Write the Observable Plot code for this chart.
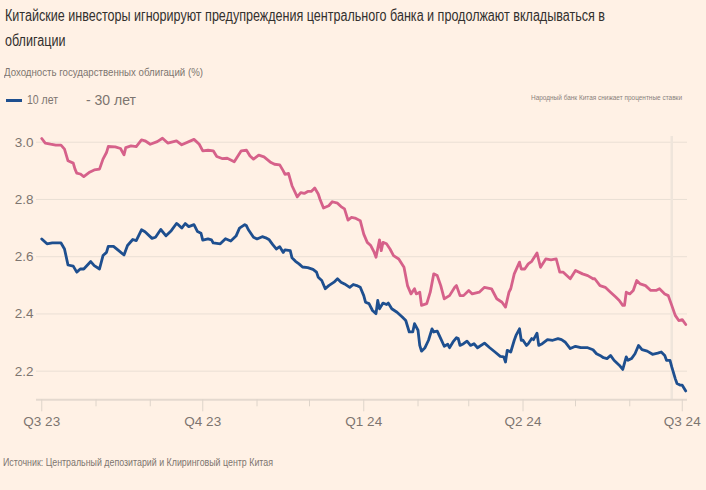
<!DOCTYPE html>
<html>
<head>
<meta charset="utf-8">
<script src="https://cdn.jsdelivr.net/npm/d3@7"></script>
<script src="https://cdn.jsdelivr.net/npm/@observablehq/plot@0.6"></script>
<style>
  html, body { margin: 0; padding: 0; background: #fff1e5; }
  #wrap { position: relative; width: 706px; height: 490px; background: #fff1e5; overflow: hidden; font-family: "Liberation Sans", Arial, sans-serif; }
  .fit { position: absolute; white-space: nowrap; transform-origin: 0 50%; }
  #title { left: 5px; top: 3px; font-size: 16px; line-height: 25px; color: #33302e; }
  #subtitle { left: 4px; top: 65px; font-size: 11px; line-height: 14px; color: #7d7570; }
  #sw10 { position: absolute; left: 6px; top: 99px; width: 16px; height: 3px; background: #1e4f8f; }
  #lab10 { left: 27px; top: 92px; font-size: 12px; line-height: 16px; color: #7d7570; }
  #lab30 { position: absolute; left: 86px; top: 91px; font-size: 14px; line-height: 18px; color: #7d7570; white-space: nowrap; }
  #annot { left: 531px; top: 93px; font-size: 8px; line-height: 10px; color: #8a817c; }
  #chart { position: absolute; left: 0; top: 110px; }
  #source { left: 3px; top: 455px; font-size: 11px; line-height: 14px; color: #7d7570; }
</style>
</head>
<body>
<div id="wrap">
  <div id="title" class="fit" data-w="600">Китайские инвесторы игнорируют предупреждения центрального банка и продолжают вкладываться в<br>облигации</div>
  <div id="subtitle" class="fit" data-w="199">Доходность государственных облигаций (%)</div>
  <div id="sw10"></div>
  <div id="lab10" class="fit" data-w="31">10 лет</div>
  <div id="lab30">- 30 лет</div>
  <div id="annot" class="fit" data-w="151">Народный банк Китая снижает процентные ставки</div>
  <div id="chart"></div>
  <div id="source" class="fit" data-w="270">Источник: Центральный депозитарий и Клиринговый центр Китая</div>
</div>
<script>
// ---- data ----
const dates30 = [
"2023-07-01","2023-07-03","2023-07-06","2023-07-09","2023-07-12","2023-07-14","2023-07-16","2023-07-19","2023-07-20","2023-07-21",
"2023-07-23","2023-07-25","2023-07-28","2023-07-31","2023-08-03","2023-08-05","2023-08-07","2023-08-08","2023-08-12","2023-08-15",
"2023-08-17","2023-08-18","2023-08-21","2023-08-24","2023-08-27","2023-08-29","2023-09-01","2023-09-05","2023-09-08","2023-09-11",
"2023-09-16","2023-09-19","2023-09-26","2023-09-29","2023-10-01","2023-10-04","2023-10-07","2023-10-09","2023-10-12","2023-10-15",
"2023-10-19","2023-10-23","2023-10-26","2023-10-28","2023-10-30","2023-11-02","2023-11-05","2023-11-09","2023-11-11","2023-11-14",
"2023-11-16","2023-11-17","2023-11-19","2023-11-21","2023-11-24","2023-11-26","2023-11-28","2023-11-30","2023-12-02","2023-12-04",
"2023-12-06","2023-12-07","2023-12-09","2023-12-12","2023-12-14","2023-12-17","2023-12-19","2023-12-21","2023-12-23","2023-12-25",
"2023-12-27","2023-12-30","2024-01-01","2024-01-03","2024-01-05","2024-01-07","2024-01-08","2024-01-10","2024-01-11","2024-01-12",
"2024-01-14","2024-01-16","2024-01-18","2024-01-21","2024-01-24","2024-01-26","2024-01-28","2024-01-30","2024-01-31","2024-02-02",
"2024-02-03","2024-02-06","2024-02-08","2024-02-10","2024-02-12","2024-02-14","2024-02-16","2024-02-19","2024-02-22","2024-02-23",
"2024-02-25","2024-02-27","2024-03-01","2024-03-03","2024-03-07","2024-03-10","2024-03-14","2024-03-17","2024-03-20","2024-03-22",
"2024-03-24","2024-03-25","2024-03-27","2024-03-30","2024-03-31","2024-04-02","2024-04-04","2024-04-06","2024-04-09","2024-04-11",
"2024-04-14","2024-04-17","2024-04-20","2024-04-22","2024-04-24","2024-04-28","2024-05-01","2024-05-05","2024-05-08","2024-05-11",
"2024-05-12","2024-05-15","2024-05-18","2024-05-21","2024-05-24","2024-05-26","2024-05-28","2024-05-29","2024-05-30","2024-06-01",
"2024-06-03","2024-06-05","2024-06-07","2024-06-10","2024-06-13","2024-06-16","2024-06-18","2024-06-21","2024-06-23","2024-06-25",
"2024-06-27","2024-06-29","2024-07-01","2024-07-03"
];
const yield30 = [
3.013,2.997,2.993,2.990,2.990,2.976,2.935,2.927,2.906,2.892,
2.889,2.880,2.894,2.903,2.906,2.941,2.964,2.985,2.984,2.978,
2.956,2.981,2.987,2.985,3.008,3.005,2.993,3.002,3.014,2.997,
3.005,2.991,3.010,2.993,2.970,2.972,2.970,2.950,2.943,2.944,
2.932,2.970,2.972,2.952,2.941,2.955,2.949,2.929,2.923,2.921,
2.900,2.888,2.891,2.848,2.809,2.824,2.821,2.828,2.828,2.840,
2.819,2.801,2.770,2.778,2.792,2.787,2.775,2.767,2.728,2.737,
2.735,2.726,2.679,2.650,2.639,2.615,2.598,2.659,2.621,2.650,
2.645,2.627,2.604,2.592,2.563,2.499,2.470,2.488,2.470,2.476,
2.430,2.436,2.476,2.540,2.534,2.499,2.453,2.464,2.493,2.499,
2.464,2.464,2.482,2.470,2.476,2.493,2.488,2.453,2.441,2.424,
2.476,2.488,2.540,2.581,2.557,2.557,2.575,2.584,2.613,2.563,
2.592,2.589,2.592,2.546,2.546,2.523,2.552,2.540,2.534,2.523,
2.523,2.499,2.493,2.476,2.459,2.447,2.430,2.430,2.476,2.470,
2.482,2.517,2.505,2.499,2.482,2.482,2.488,2.470,2.464,2.430,
2.395,2.377,2.380,2.363
];
const dates10 = [
"2023-07-01","2023-07-04","2023-07-07","2023-07-12","2023-07-14","2023-07-16","2023-07-19","2023-07-21","2023-07-23","2023-07-25",
"2023-07-29","2023-07-31","2023-08-03","2023-08-05","2023-08-07","2023-08-08","2023-08-11","2023-08-14","2023-08-17","2023-08-19",
"2023-08-22","2023-08-24","2023-08-27","2023-08-29","2023-09-02","2023-09-04","2023-09-07","2023-09-10","2023-09-13","2023-09-16",
"2023-09-17","2023-09-19","2023-09-21","2023-09-23","2023-09-26","2023-09-28","2023-09-30","2023-10-01","2023-10-04","2023-10-06",
"2023-10-07","2023-10-11","2023-10-14","2023-10-17","2023-10-20","2023-10-22","2023-10-25","2023-10-26","2023-10-27","2023-10-30",
"2023-11-01","2023-11-04","2023-11-06","2023-11-08","2023-11-10","2023-11-12","2023-11-14","2023-11-16","2023-11-17","2023-11-20",
"2023-11-21","2023-11-23","2023-11-25","2023-11-27","2023-11-30","2023-12-03","2023-12-05","2023-12-06","2023-12-08","2023-12-10",
"2023-12-12","2023-12-15","2023-12-17","2023-12-19","2023-12-21","2023-12-24","2023-12-26","2023-12-28","2023-12-30","2024-01-01",
"2024-01-02","2024-01-04","2024-01-06","2024-01-08","2024-01-09","2024-01-10","2024-01-12","2024-01-14","2024-01-15","2024-01-17",
"2024-01-20","2024-01-23","2024-01-25","2024-01-27","2024-01-29","2024-01-30","2024-02-01","2024-02-02","2024-02-03","2024-02-05",
"2024-02-07","2024-02-09","2024-02-10","2024-02-12","2024-02-14","2024-02-16","2024-02-18","2024-02-19","2024-02-21","2024-02-23",
"2024-02-24","2024-02-25","2024-02-27","2024-02-29","2024-03-02","2024-03-04","2024-03-06","2024-03-10","2024-03-13","2024-03-16",
"2024-03-19","2024-03-21","2024-03-22","2024-03-23","2024-03-25","2024-03-27","2024-03-28","2024-03-30","2024-03-31","2024-04-01",
"2024-04-03","2024-04-04","2024-04-06","2024-04-07","2024-04-09","2024-04-10","2024-04-12","2024-04-15","2024-04-18","2024-04-21",
"2024-04-23","2024-04-25","2024-04-28","2024-05-01","2024-05-04","2024-05-08","2024-05-11","2024-05-13","2024-05-15","2024-05-17",
"2024-05-19","2024-05-21","2024-05-23","2024-05-26","2024-05-28","2024-05-30","2024-05-31","2024-06-02","2024-06-04","2024-06-06",
"2024-06-08","2024-06-11","2024-06-14","2024-06-17","2024-06-19","2024-06-21","2024-06-22","2024-06-24","2024-06-25","2024-06-27",
"2024-06-28","2024-06-30","2024-07-01","2024-07-03"
];
const yield10 = [
2.662,2.645,2.648,2.648,2.627,2.571,2.567,2.546,2.557,2.557,
2.583,2.569,2.557,2.604,2.615,2.636,2.636,2.621,2.606,2.639,
2.660,2.656,2.694,2.687,2.664,2.668,2.695,2.673,2.691,2.716,
2.712,2.700,2.716,2.705,2.712,2.688,2.682,2.658,2.662,2.659,
2.648,2.645,2.663,2.655,2.672,2.700,2.712,2.708,2.695,2.668,
2.662,2.670,2.666,2.659,2.642,2.627,2.635,2.615,2.624,2.621,
2.596,2.584,2.575,2.564,2.562,2.556,2.546,2.528,2.517,2.488,
2.499,2.511,2.523,2.511,2.505,2.493,2.503,2.499,2.493,2.464,
2.441,2.436,2.412,2.401,2.447,2.418,2.438,2.433,2.438,2.418,
2.406,2.389,2.377,2.337,2.337,2.366,2.343,2.290,2.270,2.282,
2.308,2.348,2.337,2.340,2.314,2.287,2.294,2.282,2.302,2.317,
2.314,2.290,2.296,2.305,2.290,2.296,2.282,2.298,2.282,2.267,
2.252,2.250,2.232,2.273,2.267,2.308,2.325,2.348,2.308,2.308,
2.290,2.296,2.314,2.310,2.333,2.290,2.296,2.310,2.308,2.314,
2.310,2.302,2.279,2.287,2.282,2.282,2.275,2.261,2.255,2.247,
2.244,2.255,2.238,2.221,2.206,2.250,2.238,2.244,2.261,2.290,
2.275,2.270,2.259,2.263,2.267,2.255,2.238,2.238,2.215,2.174,
2.157,2.151,2.151,2.131
];
const yTicks = [2.2, 2.4, 2.6, 2.8, 3.0];
const quarterTicks = ["2023-07-01","2023-10-01","2024-01-01","2024-04-01","2024-07-01"];
const quarterLabels = ["Q3 23","Q4 23","Q1 24","Q2 24","Q3 24"];
const monthTicks = ["2023-08-01","2023-09-01","2023-11-01","2023-12-01","2024-02-01","2024-03-01","2024-05-01","2024-06-01"];
const xDomain = ["2023-06-28","2024-07-04"];
const yDomain = [2.1, 3.02];
const cutDate = "2024-06-25";

// ---- fit narrow header texts (no condensed font installed) ----
document.querySelectorAll(".fit").forEach(el => {
  const target = +el.dataset.w;
  let w = el.scrollWidth;
  if (el.id === "title") {
    const probe = document.createElement("span");
    probe.style.cssText = "position:absolute;visibility:hidden;white-space:nowrap;font-size:16px;font-family:inherit";
    probe.textContent = "Китайские инвесторы игнорируют предупреждения центрального банка и продолжают вкладываться в";
    document.getElementById("wrap").appendChild(probe);
    w = probe.getBoundingClientRect().width;
    probe.remove();
  } else {
    w = el.getBoundingClientRect().width;
  }
  el.style.transform = `scaleX(${target / w})`;
});

// ---- build chart ----
const parse = d3.utcParse("%Y-%m-%d");
const rows10 = dates10.map((d, i) => ({date: parse(d), value: yield10[i]}));
const rows30 = dates30.map((d, i) => ({date: parse(d), value: yield30[i]}));
const qDates = quarterTicks.map(parse);
const qLabel = new Map(qDates.map((d, i) => [+d, quarterLabels[i]]));

const BLUE = "#1e4f8f", PINK = "#d6618a";
const AXIS = "#7d7570";

const chart = Plot.plot({
  width: 706,
  height: 330,
  marginLeft: 36,
  marginRight: 19,
  marginTop: 26,
  marginBottom: 40.7,
  style: {background: "transparent", fontFamily: "'Liberation Sans', Arial, sans-serif", fontSize: "13.5px", color: AXIS},
  x: {type: "utc", domain: xDomain.map(parse)},
  y: {domain: yDomain},
  marks: [
    Plot.gridY(yTicks, {stroke: "#eadfd5", strokeOpacity: 1, strokeWidth: 1}),
    Plot.ruleX([parse(cutDate)], {y1: yDomain[0], y2: yDomain[1], stroke: "#efe5db", strokeWidth: 2.5}),
    Plot.ruleY([yDomain[0]], {stroke: "#e4d9cf", strokeWidth: 2}),
    Plot.axisX(monthTicks.map(parse), {tickSize: 7, tickFormat: () => "", stroke: "#ded4ca", label: null}),
    Plot.axisX(qDates, {tickSize: 12, tickPadding: 5, tickFormat: d => qLabel.get(+d), stroke: "#ded4ca", fill: AXIS, label: null}),
    Plot.axisY(yTicks, {tickSize: 0, tickPadding: 3, tickFormat: d3.format(".1f"), fill: AXIS, label: null}),
    Plot.line(rows30, {x: "date", y: "value", stroke: PINK, strokeWidth: 2.8, strokeLinejoin: "round"}),
    Plot.line(rows10, {x: "date", y: "value", stroke: BLUE, strokeWidth: 2.8, strokeLinejoin: "round"})
  ]
});
document.getElementById("chart").appendChild(chart);
</script>
</body>
</html>
